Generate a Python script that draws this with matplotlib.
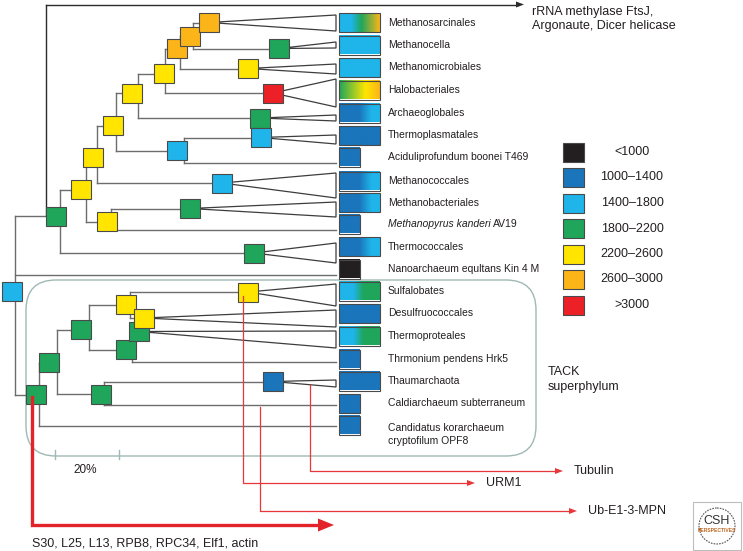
import numpy as np
import matplotlib
matplotlib.use("Agg")
import matplotlib.pyplot as plt
from matplotlib.patches import Rectangle, FancyBboxPatch, Polygon, Ellipse
from matplotlib.colors import LinearSegmentedColormap

plt.rcParams['font.family'] = ['Liberation Sans', 'DejaVu Sans']

# ---------------- data ----------------
legend_labels = ['<1000', '1000\u20131400', '1400\u20131800', '1800\u20132200',
                 '2200\u20132600', '2600\u20133000', '>3000']
legend_colors = ['#231f20', '#1b75bb', '#1fb5ea', '#1fa65b', '#ffe500', '#fbb519', '#ec2027']

leaf_names = ['Methanosarcinales', 'Methanocella', 'Methanomicrobiales', 'Halobacteriales',
              'Archaeoglobales', 'Thermoplasmatales', 'Aciduliprofundum boonei T469',
              'Methanococcales', 'Methanobacteriales', 'Methanopyrus kanderi AV19',
              'Thermococcales', 'Nanoarchaeum equltans Kin 4 M', 'Sulfalobates',
              'Desulfruococcales', 'Thermoproteales', 'Thrmonium pendens Hrk5',
              'Thaumarchaota', 'Caldiarchaeum subterraneum',
              'Candidatus korarchaeum\ncryptofilum OPF8']
# gradient stops for each leaf box: list of (position, class index)
leaf_grad = [[(0, 2), (0.3, 2), (0.55, 3), (1, 5)],
             [(0, 2), (1, 2)],
             [(0, 2), (1, 2)],
             [(0, 3), (0.65, 4), (1, 5)],
             [(0, 1), (0.5, 1), (0.8, 2), (1, 2)],
             [(0, 1), (1, 1)],
             [(0, 1), (1, 1)],
             [(0, 1), (0.5, 1), (0.8, 2), (1, 2)],
             [(0, 1), (0.5, 1), (0.8, 2), (1, 2)],
             [(0, 1), (1, 1)],
             [(0, 1), (0.5, 1), (0.8, 2), (1, 2)],
             [(0, 0), (1, 0)],
             [(0, 2), (0.35, 2), (0.6, 3), (1, 3)],
             [(0, 1), (1, 1)],
             [(0, 2), (0.35, 2), (0.6, 3), (1, 3)],
             [(0, 1), (1, 1)],
             [(0, 1), (1, 1)],
             [(0, 1), (1, 1)],
             [(0, 1), (1, 1)]]
leaf_wide = [1, 1, 1, 1, 1, 1, 0, 1, 1, 0, 1, 0, 1, 1, 1, 0, 1, 0, 0]
leaf_row_y = [22.5, 45, 67.5, 90, 113, 135.5, 157, 181, 202.5, 224, 246.5, 269,
              291, 313.5, 336, 359, 381, 403.5, 425]
# clade attachment: node the clade hangs off, and its tip extent at the leaf column
leaf_apex = ['O3', 'Gmc', 'Ymm', 'Rhb', 'Gag', 'LBtp', 'LB1', 'LBmcc', 'Gmb', 'Y3',
             'Gtc', 'Root', 'T6', 'T7', 'T8', 'T5', 'DBth', 'T3', 'T0']
leaf_tip_top = [15, 42, 64, 79, 115, 135, 163, 173, 202, 230, 243, 274.5,
                284, 310, 331, 362, 380, 405, 426]
leaf_tip_bot = [31, 48, 74, 107, 121, 144, 163, 198, 217, 230, 263, 274.5,
                306, 327, 348, 362, 387, 405, 426]

node_names = ['E0', 'Y1', 'Y2', 'Y3', 'Y4', 'Y5', 'Y6', 'O1', 'O2', 'O3', 'Gmc', 'Ymm',
              'Rhb', 'Gag', 'LBtp', 'LB1', 'LBmcc', 'Gmb', 'Gtc', 'Root', 'T0', 'T1',
              'T2', 'T3', 'T4', 'T5', 'T8', 'T7', 'T6', 'DBth']
node_x = [56, 81, 93, 107, 113, 132, 164, 177, 190, 209, 279, 248,
          273, 260, 260.5, 177, 222, 190, 254, 11.5, 35.5, 48.5,
          81, 100.5, 126, 126, 139, 144, 248, 273]
node_y = [216, 189.5, 157.5, 221.5, 125.5, 93, 73.5, 48.5, 36, 22.5, 48.5, 68.5,
          93, 118, 137.5, 150.5, 183, 208.5, 253, 291.5, 394.5, 362.5,
          329.5, 394, 304.5, 349.5, 331.5, 318, 292, 381.5]
node_class = [3, 4, 4, 4, 4, 4, 4, 5, 5, 5, 3, 4,
              6, 3, 2, 2, 2, 3, 3, 2, 3, 3,
              3, 3, 4, 3, 3, 4, 4, 1]

parent_names = ['Root', 'E0', 'Y1', 'Y2', 'Y3', 'Y4', 'LB1', 'Y5', 'Y6', 'O1', 'O2',
                'T0', 'T1', 'T2', 'T3', 'T4', 'T5']
parent_conn_x = [15, 60, 86, 97, 111, 116, 184, 138, 165, 180, 193,
                 39, 57, 89, 104, 130, 132]
parent_children = [['E0', 'T0'], ['Y1', 'Gtc'], ['Y2', 'Y3'], ['Y4', 'LBmcc'], ['Gmb'],
                   ['Y5', 'LB1'], ['LBtp'], ['Y6', 'Gag'], ['O1', 'Rhb'], ['O2', 'Ymm'],
                   ['O3', 'Gmc'], ['T1'], ['T2', 'T3'], ['T4', 'T5'], ['DBth'],
                   ['T6', 'T7'], ['T8']]

transfer_labels = ['Tubulin', 'URM1', 'Ub-E1-3-MPN']
transfer_start = [(310, 385), (243, 296), (260, 407)]
transfer_level = [471, 483, 511]
transfer_end = [563, 475, 577]

big_transfer_label = 'S30, L25, L13, RPB8, RPC34, Elf1, actin'
top_transfer_label = ['rRNA methylase FtsJ,', 'Argonaute, Dicer helicase']

# ---------------- drawing ----------------
W, H = 743, 551
fig = plt.figure(figsize=(W / 100, H / 100), dpi=100)
ax = fig.add_axes([0, 0, 1, 1])
ax.axis('off')

LINE = '#6d6d6d'
EDGE = '#4a4a4a'
TXT = '#231f20'
BW, BH = 20, 19
LEAF_X = 336
pos = {n: (x, y) for n, x, y in zip(node_names, node_x, node_y)}
nclass = {n: c for n, c in zip(node_names, node_class)}

# TACK rounded box
tack = FancyBboxPatch((26 + 30, 280 + 30), 536 - 26 - 60, 456 - 280 - 60,
                      boxstyle='round,pad=30', fc='none', ec='#9fb9b5', lw=1.0, zorder=1)
ax.add_patch(tack)
# scale bar ticks
for tx in (55, 119):
    ax.plot([tx, tx], [450, 459], color='#9fb9b5', lw=1.0, zorder=1)
ax.text(73, 470, '20%', fontsize=8.5, color=TXT, va='center', ha='left')

# connectors
for p, cx, kids in zip(parent_names, parent_conn_x, parent_children):
    px, py = pos[p]
    ys = [py] + [pos[k][1] for k in kids]
    for i, a in enumerate(leaf_apex):
        if a == p and leaf_tip_top[i] == leaf_tip_bot[i]:
            ys.append(leaf_tip_top[i])
            ax.plot([cx, LEAF_X], [leaf_tip_top[i]] * 2, color=LINE, lw=1.0, zorder=2)
    ax.plot([cx, cx], [min(ys), max(ys)], color=LINE, lw=1.0, zorder=2)
    if p != 'Root':
        ax.plot([px, cx], [py, py], color=LINE, lw=1.0, zorder=2)
    for k in kids:
        kx, ky = pos[k]
        ax.plot([cx, kx], [ky, ky], color=LINE, lw=1.0, zorder=2)

# triangles for collapsed clades
for i, a in enumerate(leaf_apex):
    if leaf_tip_top[i] != leaf_tip_bot[i]:
        ax_, ay_ = pos[a]
        tri = Polygon([(ax_, ay_), (LEAF_X, leaf_tip_top[i]), (LEAF_X, leaf_tip_bot[i])],
                      closed=True, fc='white', ec='#3d3d3d', lw=0.9, zorder=2)
        ax.add_patch(tri)

# black transfer line to top
e0x, e0y = pos['E0']
ax.plot([45.7, 45.7], [e0y, 4.5], color='#2b2b2b', lw=1.0, zorder=2)
ax.plot([45.7, 518], [4.5, 4.5], color='#2b2b2b', lw=1.0, zorder=2)
ax.add_patch(Polygon([(516, 1.5), (524, 4.5), (516, 7.5)], closed=True,
                     fc='#2b2b2b', ec='none', zorder=2))
ax.text(532, 12, top_transfer_label[0], fontsize=9, color=TXT, va='center', ha='left')
ax.text(532, 26, top_transfer_label[1], fontsize=9, color=TXT, va='center', ha='left')

# nodes
for n in node_names:
    x, y = pos[n]
    ax.add_patch(Rectangle((x - BW / 2, y - BH / 2), BW, BH, fc=legend_colors[nclass[n]],
                           ec=EDGE, lw=0.8, zorder=4))

# leaf boxes + labels
for i, name in enumerate(leaf_names):
    y = leaf_row_y[i]
    w = 41 if leaf_wide[i] else 21
    x0 = 339
    stops = [(p, legend_colors[c]) for p, c in leaf_grad[i]]
    cmap = LinearSegmentedColormap.from_list('g%d' % i, stops)
    ax.imshow(np.linspace(0, 1, 128).reshape(1, -1), extent=(x0, x0 + w, y + BH / 2, y - BH / 2),
              cmap=cmap, aspect='auto', interpolation='bilinear', zorder=3)
    ax.add_patch(Rectangle((x0, y - BH / 2), w, BH, fc='none', ec=EDGE, lw=0.8, zorder=4))
    if name.startswith('Methanopyrus'):
        t = ax.text(388, y, 'Methanopyrus kanderi', fontsize=7.5, style='italic',
                    color=TXT, va='center', ha='left')
        ax.annotate('AV19', xy=(1, 0.5), xycoords=t, xytext=(2, 0),
                    textcoords='offset points', fontsize=7.5, color=TXT,
                    va='center', ha='left')
    elif '\n' in name:
        l1, l2 = name.split('\n')
        ax.text(388, 428, l1, fontsize=7.5, color=TXT, va='center', ha='left')
        ax.text(388, 441, l2, fontsize=7.5, color=TXT, va='center', ha='left')
    else:
        ax.text(388, y, name, fontsize=7.5, color=TXT, va='center', ha='left')

# legend
leg_y0, leg_dy = 152, 25.5
for i, (lab, col) in enumerate(zip(legend_labels, legend_colors)):
    y = leg_y0 + i * leg_dy
    ax.add_patch(Rectangle((563, y - 9.5), 21, 19, fc=col, ec=EDGE, lw=0.8, zorder=4))
    ax.text(632, y, lab, fontsize=9, color=TXT, va='center', ha='center')

ax.text(548, 372, 'TACK', fontsize=9, color=TXT, va='center', ha='left')
ax.text(548, 387, 'superphylum', fontsize=9, color=TXT, va='center', ha='left')

# red transfer arrows
RED = '#e8373b'
for lab, (sx, sy), lvl, ex in zip(transfer_labels, transfer_start, transfer_level, transfer_end):
    ax.plot([sx, sx, ex - 6], [sy, lvl, lvl], color=RED, lw=0.9, zorder=5)
    ax.add_patch(Polygon([(ex - 8, lvl - 3), (ex, lvl), (ex - 8, lvl + 3)], closed=True,
                         fc=RED, ec='none', zorder=5))
    ax.text(ex + 11, lvl, lab, fontsize=9, color=TXT, va='center', ha='left')

t0x, t0y = pos['T0']
ax.plot([32, 32, 320], [t0y + 2, 525, 525], color='#e3232a', lw=2.4, zorder=5,
        solid_joinstyle='miter')
ax.add_patch(Polygon([(318, 518.5), (334, 525), (318, 531.5)], closed=True,
                     fc='#e3232a', ec='none', zorder=5))
ax.text(32, 543, big_transfer_label, fontsize=9, color=TXT, va='center', ha='left')

# CSH logo
ax.add_patch(Rectangle((693, 502), 48, 48, fc='white', ec='#bdbdbd', lw=0.8, zorder=3))
ax.add_patch(Ellipse((717, 526), 36, 36, fc='none', ec='#555555', lw=0.8, ls=(0, (1.5, 1)), zorder=4))
ax.text(717, 521, 'CSH', fontsize=9, color='#333333', va='center', ha='center', zorder=5)
ax.text(717, 531, 'PERSPECTIVES', fontsize=3.6, color='#c0651f', va='center', ha='center',
        zorder=5, fontweight='bold')

ax.set_xlim(0, W)
ax.set_ylim(H, 0)
ax.set_aspect('auto')
fig.savefig('out.png', dpi=100)
